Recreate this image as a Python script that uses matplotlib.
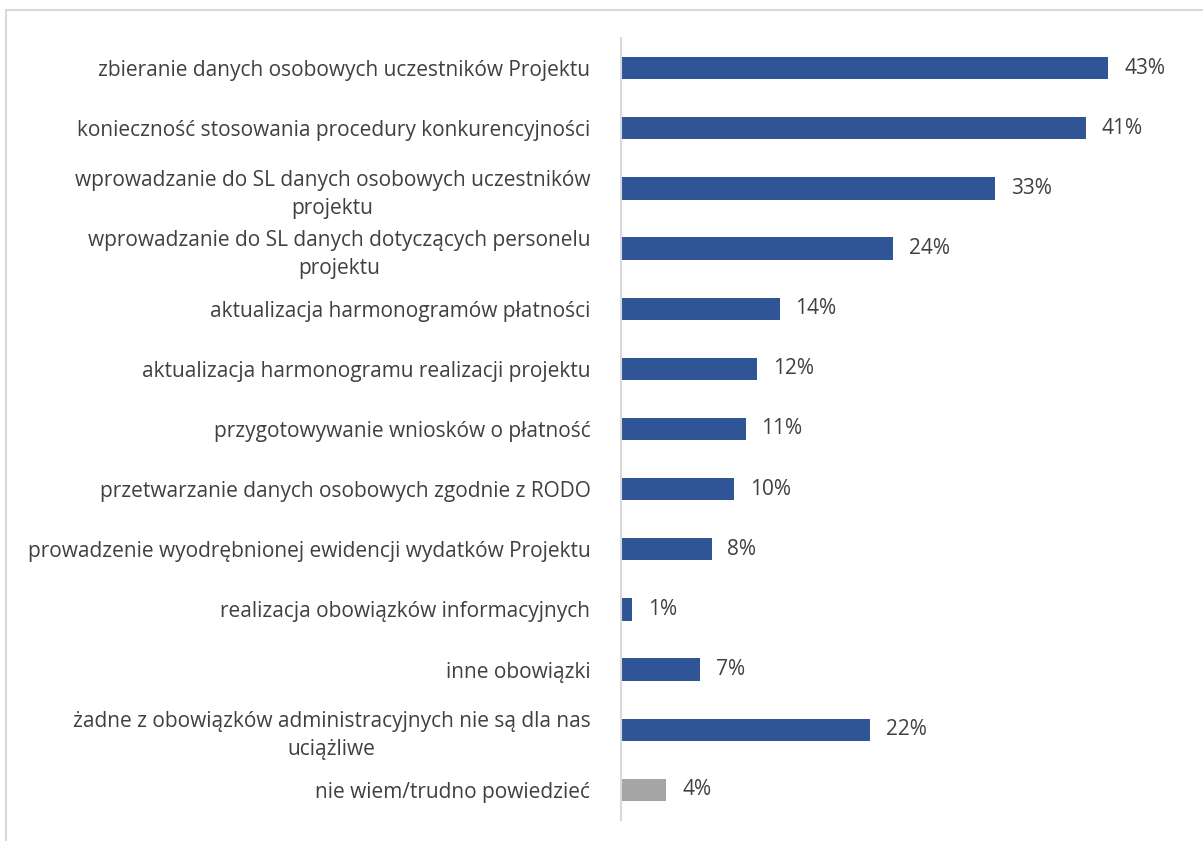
import matplotlib.pyplot as plt
from matplotlib.patches import Rectangle

categories = [
    "zbieranie danych osobowych uczestników Projektu",
    "konieczność stosowania procedury konkurencyjności",
    "wprowadzanie do SL danych osobowych uczestników\nprojektu",
    "wprowadzanie do SL danych dotyczących personelu\nprojektu",
    "aktualizacja harmonogramów płatności",
    "aktualizacja harmonogramu realizacji projektu",
    "przygotowywanie wniosków o płatność",
    "przetwarzanie danych osobowych zgodnie z RODO",
    "prowadzenie wyodrębnionej ewidencji wydatków Projektu",
    "realizacja obowiązków informacyjnych",
    "inne obowiązki",
    "żadne z obowiązków administracyjnych nie są dla nas\nuciążliwe",
    "nie wiem/trudno powiedzieć",
]
values = [43, 41, 33, 24, 14, 12, 11, 10, 8, 1, 7, 22, 4]
colors = ["#2F5597"] * 12 + ["#A5A5A5"]

plt.rcParams['font.family'] = ['Open Sans', 'DejaVu Sans']
text_color = "#404040"

fig = plt.figure(figsize=(12.03, 8.41), dpi=100)
ax = fig.add_axes([0.5162, 0.025, 0.4709, 0.9298])

pos = list(range(len(values)))
ax.barh(pos, values, height=0.37, color=colors)
ax.set_ylim(len(values) - 0.5, -0.5)
ax.set_xlim(0, 50)

for p, v in zip(pos, values):
    ax.text(v + 1.4, p, f"{v}%", va='center', ha='left', fontsize=15, color=text_color)

ax.set_yticks(pos)
ax.set_yticklabels(categories, fontsize=15, color=text_color,
                   multialignment='center', linespacing=1.45)
ax.tick_params(axis='y', length=0, pad=22)
ax.set_xticks([])

for s in ['top', 'right', 'bottom']:
    ax.spines[s].set_visible(False)
ax.spines['left'].set_color('#d9d9d9')
ax.spines['left'].set_linewidth(1.5)

# light frame around the chart area
fig.patches.append(Rectangle((0.005, -0.05), 1.1, 1.038, transform=fig.transFigure,
                             fill=False, edgecolor='#d9d9d9', linewidth=1.5))

fig.savefig("out.png", dpi=100)
